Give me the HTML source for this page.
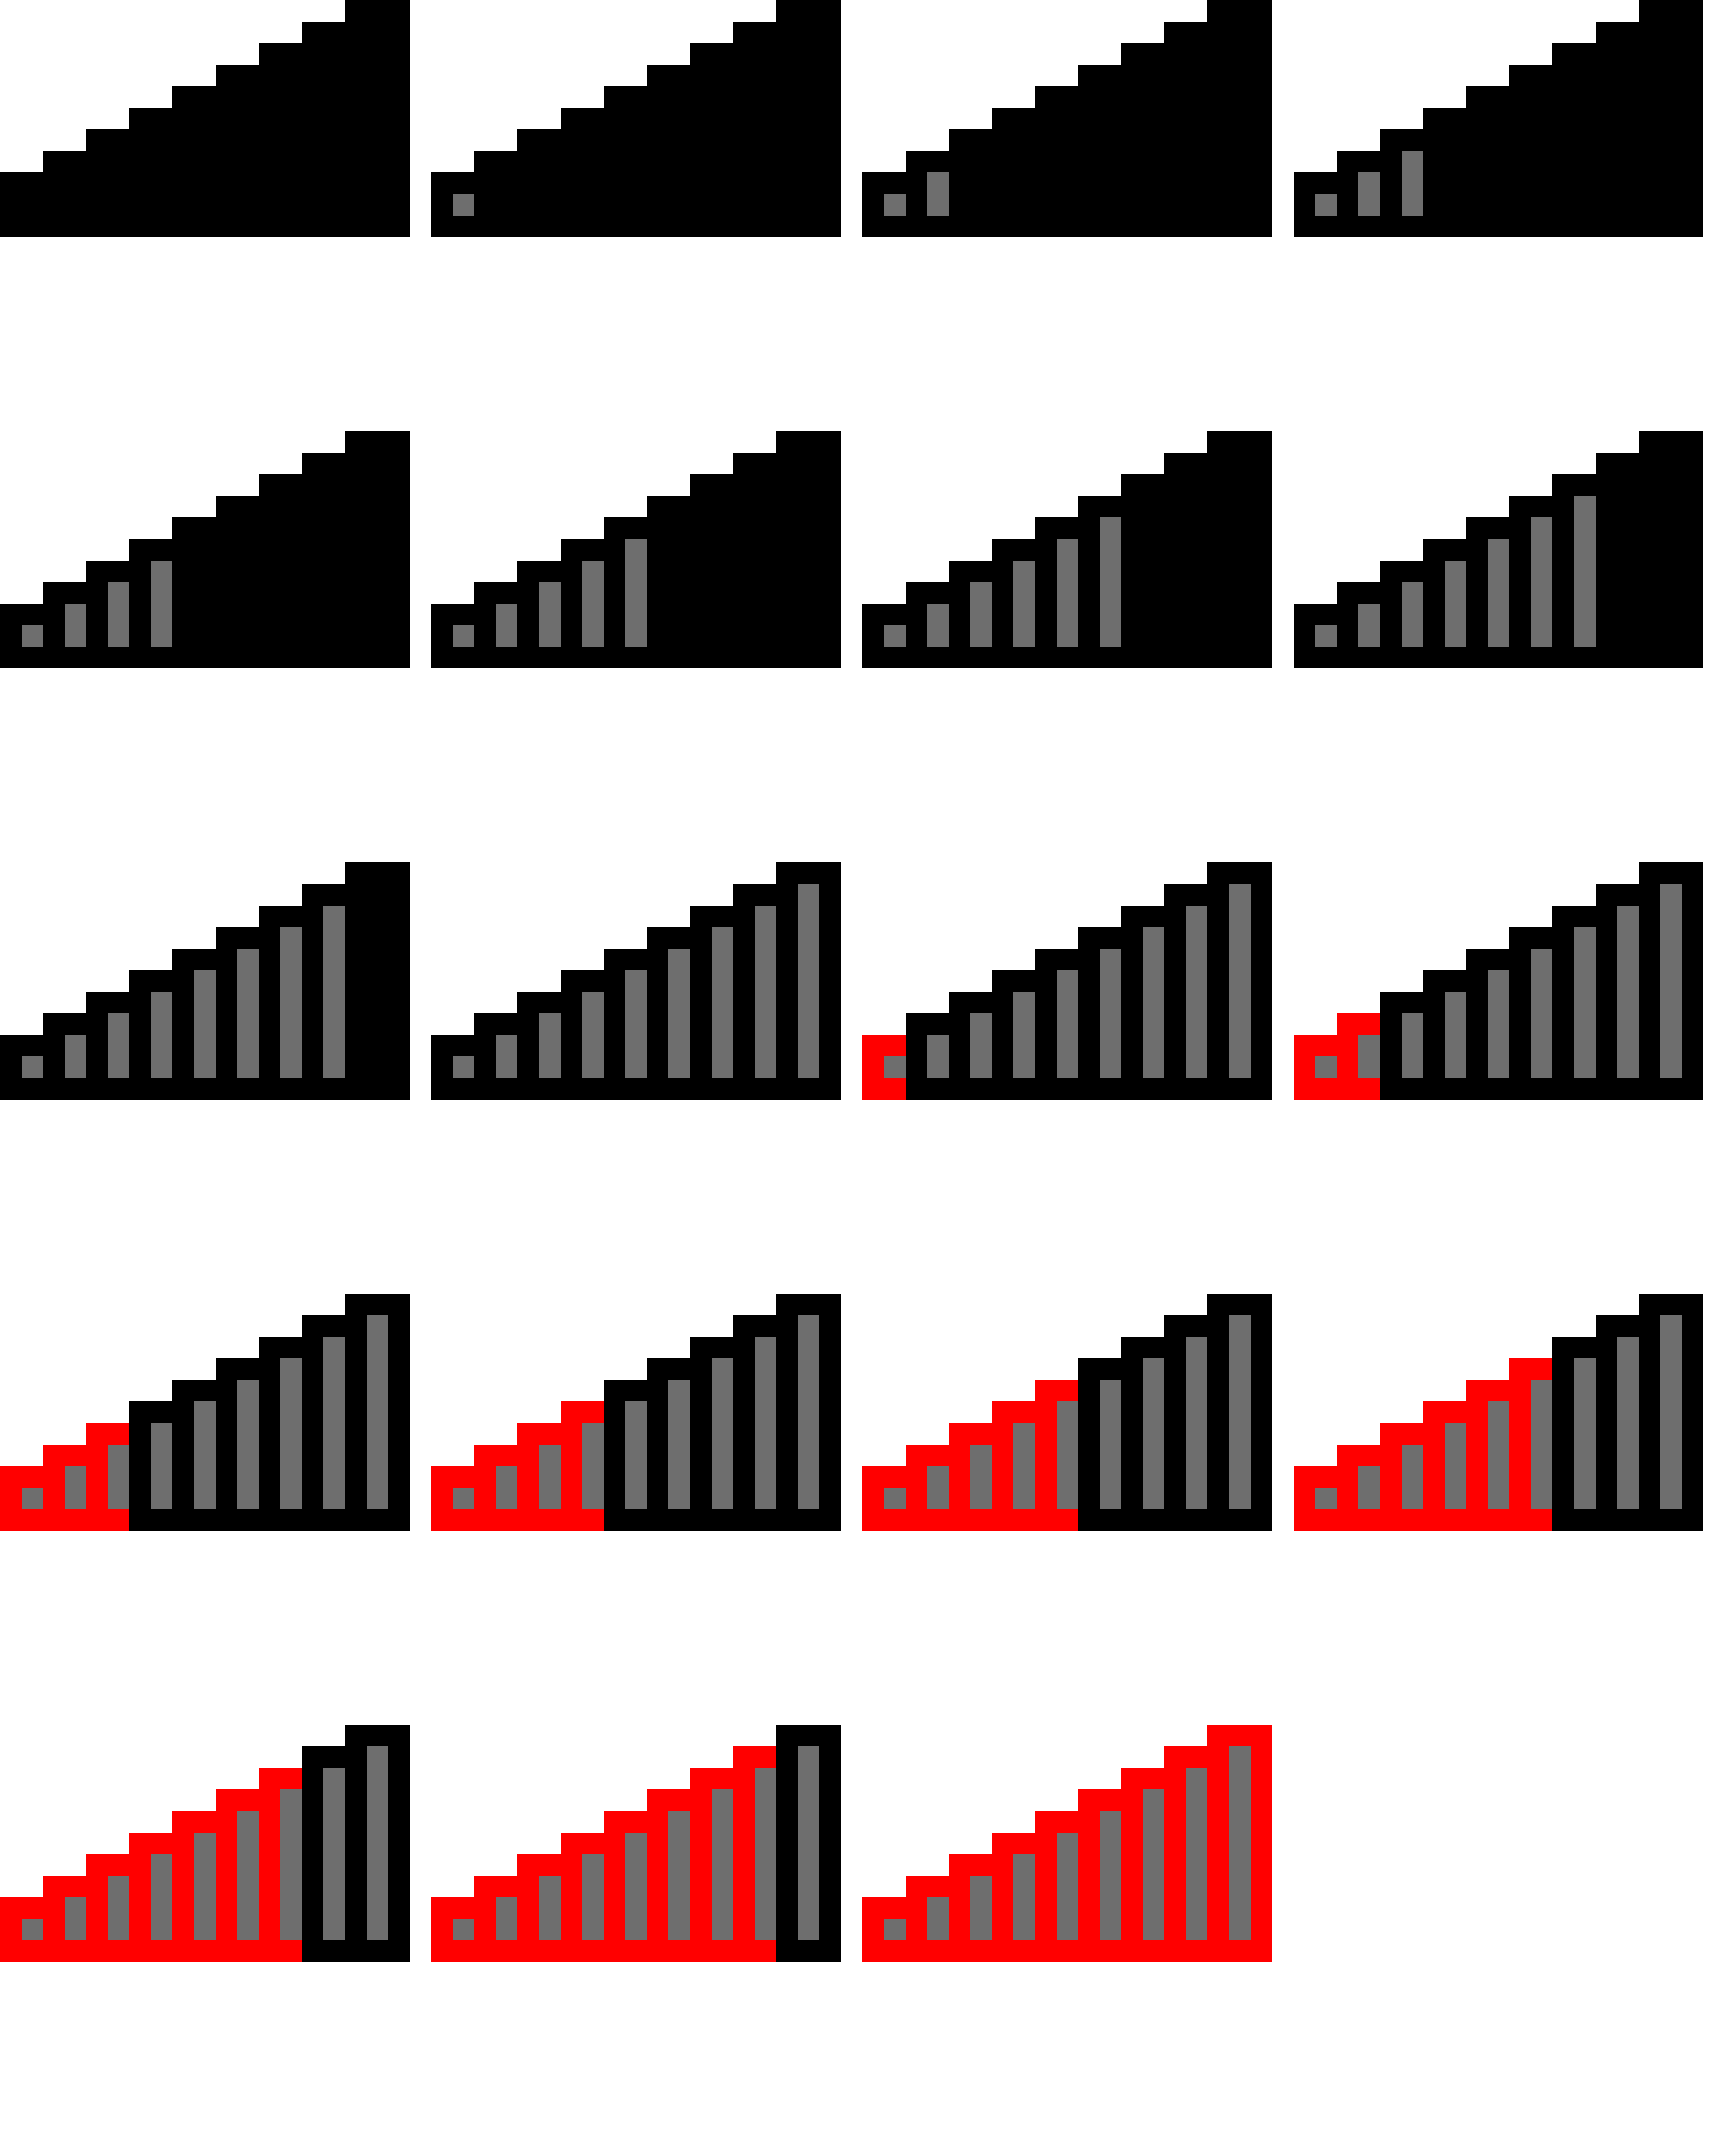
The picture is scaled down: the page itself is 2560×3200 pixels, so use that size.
<!DOCTYPE html>
<html>
<head>
<meta charset="utf-8">
<style>
  html, body { margin: 0; padding: 0; background: #ffffff; }
  body { width: 2560px; height: 3200px; overflow: hidden; font-family: "Liberation Sans", sans-serif; }
  svg { display: block; }
</style>
</head>
<body>
<svg id="chart" xmlns="http://www.w3.org/2000/svg" width="2560" height="3200" viewBox="0 0 2560 3200">
  <rect x="0" y="0" width="2560" height="3200" fill="#ffffff"></rect>
</svg>
<script>
// Data: per icon, number of visible grey bars and number of red-outlined columns
const barCounts = [0,1,2,3,4,5,6,7,8,9,9,9,9,9,9,9,9,9,9];
const redCounts = [0,0,0,0,0,0,0,0,0,0,1,2,3,4,5,6,7,8,9];
const levels = 9;

const NS = 'http://www.w3.org/2000/svg';
const svg = document.getElementById('chart');
const U = 32;            // unit
const COLW = 64;         // column width
const ICONH = 352;       // icon height
const CELL = 640;        // grid step
const PER_ROW = 4;

function colTop(k) { return (levels - 1 - k) * U; }
function colWidth(k) { return k === levels - 1 ? COLW + U : COLW; }

function rect(parent, x, y, w, h, fill) {
  const r = document.createElementNS(NS, 'rect');
  r.setAttribute('x', x); r.setAttribute('y', y);
  r.setAttribute('width', w); r.setAttribute('height', h);
  r.setAttribute('fill', fill);
  parent.appendChild(r);
  return r;
}

barCounts.forEach((bars, i) => {
  const red = redCounts[i];
  const g = document.createElementNS(NS, 'g');
  
  
  const ox = (i % PER_ROW) * CELL;
  const oy = Math.floor(i / PER_ROW) * CELL;
  g.setAttribute('transform', 'translate(' + ox + ',' + oy + ')');
  svg.appendChild(g);
  for (let k = 0; k < levels; k++) {
    const col = rect(g, k * COLW, colTop(k), colWidth(k), ICONH - colTop(k), k < red ? '#ff0000' : '#000000');
    
    
  }
  for (let k = 0; k < bars; k++) {
    const b = rect(g, U + k * COLW, colTop(k) + U, U, ICONH - 2 * U - colTop(k), '#6e6e6e');
    
    
  }
});
</script>
</body>
</html>
